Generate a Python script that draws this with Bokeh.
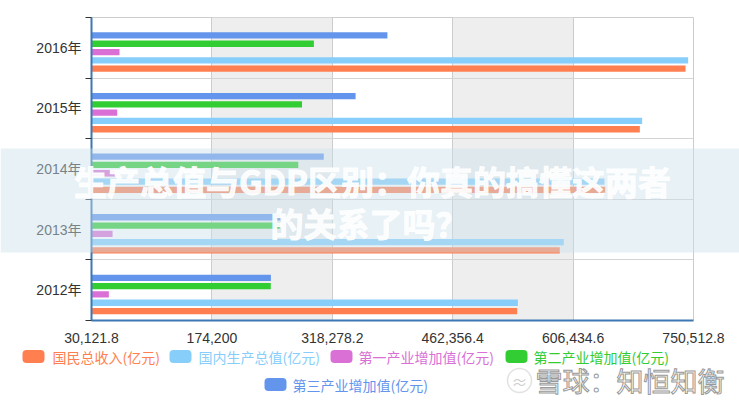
from bokeh.plotting import figure
from bokeh.models import (ColumnDataSource, FixedTicker, Range1d, BoxAnnotation)
from bokeh.transform import dodge
from bokeh.core.properties import value
from bokeh.embed import file_html
from bokeh.resources import INLINE

# ---------------- data ----------------
years = ["2012年", "2013年", "2014年", "2015年", "2016年"]
gni = [539500, 590500, 644791, 686300, 741000]          # 国民总收入(亿元)
gdp = [540367, 595244, 643974, 689052, 744127]          # 国内生产总值(亿元)
primary = [50902, 55329, 58332, 60863, 63671]           # 第一产业增加值(亿元)
secondary = [244643, 255500, 277572, 282040, 296236]    # 第二产业增加值(亿元)
tertiary = [244822, 256000, 308058, 346150, 384221]     # 第三产业增加值(亿元)

series_names = ["国民总收入(亿元)", "国内生产总值(亿元)", "第一产业增加值(亿元)",
                "第二产业增加值(亿元)", "第三产业增加值(亿元)"]
series_keys = ["gni", "gdp", "primary", "secondary", "tertiary"]
series_colors = ["#ff7f50", "#87cefa", "#da70d6", "#32cd32", "#6495ed"]
series_offsets = [-0.344, -0.207, -0.07, 0.067, 0.204]

x_ticks = [30121.8, 174200, 318278.2, 462356.4, 606434.6, 750512.8]
x_tick_labels = ["30,121.8", "174,200", "318,278.2", "462,356.4", "606,434.6", "750,512.8"]

title_lines = ["生产总值与GDP区别：你真的搞懂这两者", "的关系了吗？"]
watermark = "雪球：知恒知衡"

W, H = 739, 400
CJK = "Noto Sans CJK SC"

# ---------------- main chart ----------------
idx = list(range(len(years)))
src = ColumnDataSource(dict(y=idx, gni=gni, gdp=gdp, primary=primary,
                            secondary=secondary, tertiary=tertiary))

x_min, x_max = x_ticks[0], x_ticks[-1]
p = figure(width=W, height=H, output_backend="svg", toolbar_location=None,
           x_range=Range1d(x_min, x_max), y_range=Range1d(-0.5, len(years) - 0.5),
           min_border_left=91, min_border_right=46, min_border_top=17, min_border_bottom=80)
p.background_fill_color = "white"
p.border_fill_color = "white"
p.outline_line_color = "#cccccc"

for key, color, off in zip(series_keys, series_colors, series_offsets):
    p.hbar(y=dodge("y", off), left=x_min, right=key, height=0.104, source=src,
           fill_color=color, line_color=None)

# x axis
p.xaxis.ticker = FixedTicker(ticks=x_ticks)
p.xaxis.major_label_overrides = {t: l for t, l in zip(x_ticks, x_tick_labels)}
p.xaxis.major_tick_line_color = None
p.xaxis.minor_tick_line_color = None
p.xaxis.axis_line_color = "#3c78b4"
p.xaxis.axis_line_width = 2
p.xaxis.major_label_text_font = "Liberation Sans"
p.xaxis.major_label_text_font_size = "14px"
p.xaxis.major_label_text_color = "#333333"
p.xaxis.major_label_standoff = 6

# y axis
bounds = [i - 0.5 for i in range(len(years) + 1)]
p.yaxis.ticker = FixedTicker(ticks=idx, minor_ticks=bounds)
p.yaxis.major_label_overrides = {i: y for i, y in zip(idx, years)}
p.yaxis.major_tick_line_color = None
p.yaxis.major_tick_out = 0
p.yaxis.major_tick_in = 0
p.yaxis.minor_tick_out = 6
p.yaxis.minor_tick_in = 0
p.yaxis.minor_tick_line_color = "#333333"
p.yaxis.axis_line_color = "#3c78b4"
p.yaxis.axis_line_width = 2
p.yaxis.major_label_text_font = "'Liberation Sans', 'Noto Sans CJK SC'"
p.yaxis.major_label_text_font_size = "14px"
p.yaxis.major_label_text_color = "#333333"
p.yaxis.major_label_standoff = 4

# grids
p.xgrid.ticker = FixedTicker(ticks=x_ticks)
p.xgrid.grid_line_color = "#cccccc"
p.xgrid.band_fill_color = "#eeeeee"
p.xgrid.band_fill_alpha = 1.0
p.ygrid.ticker = FixedTicker(ticks=bounds)
p.ygrid.grid_line_color = "#d4d4d4"

# ---------------- overlay (legend, banner, watermark) in page pixels ----------------
o = figure(width=W, height=H, output_backend="svg", toolbar_location=None,
           x_range=Range1d(0, W), y_range=Range1d(H, 0),
           min_border=0, x_axis_type=None, y_axis_type=None)
o.background_fill_color = None
o.border_fill_color = None
o.outline_line_color = None
o.xgrid.visible = False
o.ygrid.visible = False
o.styles = {"position": "absolute", "top": "0px", "left": "0px",
            "z-index": "10", "pointer-events": "none"}

# legend
swatch_left = [22, 169, 330, 505, 264]
text_x = [52, 198, 358, 533, 292]
row_y = [356, 356, 356, 356, 384]
for sl, ry, color in zip(swatch_left, row_y, series_colors):
    o.add_layout(BoxAnnotation(left=sl, right=sl + 22, top=ry - 6.5, bottom=ry + 6.5,
                               fill_color=color, fill_alpha=1, line_color=None,
                               border_radius=4))
o.text(x=text_x, y=row_y, text=series_names, text_color=series_colors,
       text_font=value(CJK), text_font_size="14px",
       text_baseline="middle", text_align="left")

# banner with article title
o.quad(left=0, right=W, top=148, bottom=252, fill_color="#c9e1ea", fill_alpha=0.45,
       line_color=None)
o.text(x=[372, 369], y=[180, 222], text=title_lines, text_color="white",
       text_alpha=0.93, text_outline_color="white", text_font=value(CJK),
       text_font_style="bold", text_font_size="33px",
       text_baseline="middle", text_align="center")

# watermark
o.add_layout(BoxAnnotation(left=507, right=531, top=368, bottom=392,
                           fill_color="white", fill_alpha=0.5, line_color="#a0a0a0",
                           line_width=1.5, border_radius=12))
o.text(x=[519], y=[380], text=["≈"], text_color="#9a9a9a", text_font=value(CJK),
       text_font_size="16px", text_baseline="middle", text_align="center")
o.text(x=[535], y=[380], text=[watermark], text_color="white",
       text_outline_color="#999999", text_font=value(CJK), text_font_size="27px",
       text_baseline="middle", text_align="left")

open("out.html", "w").write(file_html([p, o], INLINE))
